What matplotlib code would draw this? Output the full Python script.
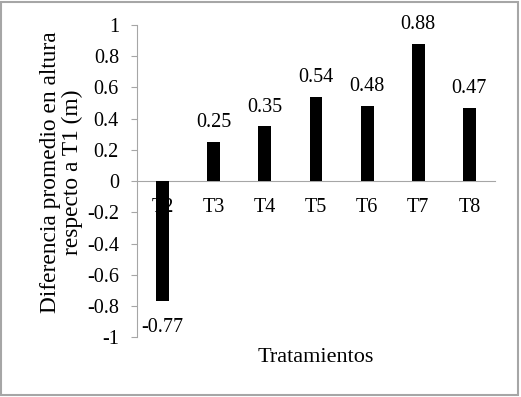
import matplotlib
matplotlib.use("Agg")
import matplotlib.pyplot as plt
from matplotlib.patches import Rectangle

categories = ["T2", "T3", "T4", "T5", "T6", "T7", "T8"]
values = [-0.77, 0.25, 0.35, 0.54, 0.48, 0.88, 0.47]
yticks = [-1, -0.8, -0.6, -0.4, -0.2, 0, 0.2, 0.4, 0.6, 0.8, 1]
ytick_labels = ["-1", "-0.8", "-0.6", "-0.4", "-0.2", "0", "0.2", "0.4", "0.6", "0.8", "1"]

plt.rcParams["font.family"] = ["Liberation Serif", "DejaVu Serif"]

W, H = 521, 397
fig = plt.figure(figsize=(W / 100, H / 100), dpi=100)
ax = fig.add_axes([137 / W, 1 - 337.3 / H, (495 - 137) / W, (337.3 - 25) / H])

gray = "#a6a6a6"
x = list(range(len(categories)))
ax.bar(x, values, width=0.25, color="black", zorder=3)

ax.set_xlim(-0.5, len(categories) - 0.5)
ax.set_ylim(-1, 1)
ax.set_yticks(yticks)
ax.set_yticklabels(ytick_labels)
ax.set_xticks(x)
ax.set_xticklabels(categories)

for s in ["top", "right"]:
    ax.spines[s].set_visible(False)
ax.spines["bottom"].set_position(("data", 0))
ax.spines["bottom"].set_color(gray)
ax.spines["left"].set_color(gray)
ax.spines["bottom"].set_zorder(2)

ax.tick_params(axis="y", direction="out", length=4, color=gray, labelsize=14.5, pad=9)
ax.tick_params(axis="x", length=0, labelsize=14.5, pad=12)

for xi, v in zip(x, values):
    if v >= 0:
        ax.annotate(f"{v:.2f}", (xi, v), xytext=(0, 7), textcoords="offset points",
                    ha="center", va="bottom", fontsize=14.5)
    else:
        ax.annotate(f"{v:.2f}", (xi, v), xytext=(0, -12), textcoords="offset points",
                    ha="center", va="top", fontsize=14.5)

fig.text(316 / W, 1 - 348 / H, "Tratamientos", ha="center", va="top", fontsize=16)
fig.text(61.5 / W, 1 - 172 / H, "Diferencia promedio en altura\nrespecto a T1 (m)",
         rotation=90, ha="center", va="center", multialignment="center",
         fontsize=16.8, linespacing=1.0)

fig.patches.append(Rectangle((1 / W, 2 / H), (518 - 1) / W, (396 - 3) / H,
                             transform=fig.transFigure, fill=False,
                             edgecolor=gray, linewidth=1.5))

fig.savefig("out.png", dpi=100)
